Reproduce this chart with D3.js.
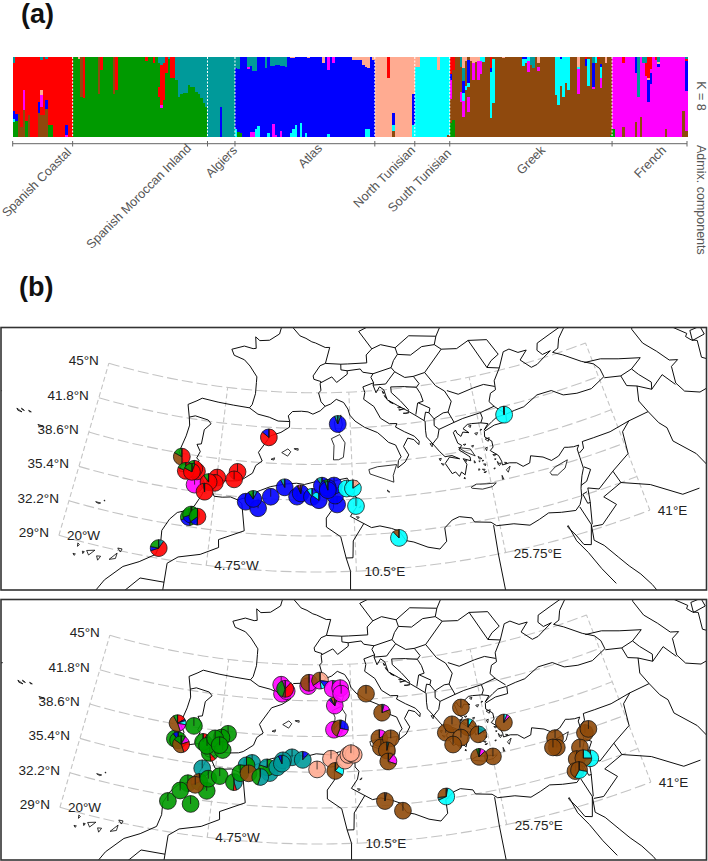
<!DOCTYPE html>
<html><head><meta charset="utf-8">
<script src="https://cdn.jsdelivr.net/npm/d3@7"></script>
<style>html,body{margin:0;padding:0;background:#fff}svg{display:block}text{font-family:"Liberation Sans",Arial,sans-serif}</style>
</head><body><svg id="c" width="708" height="861"></svg>
<script>
// ---------- data ----------
const componentColors={r:"#ff0000",g:"#009a00",t:"#009a9a",b:"#0000ff",p:"#ffab91",c:"#00ffff",n:"#8f4a0a",m:"#ff00ff"};
const populations=["Spanish Coastal","Spanish Moroccan Inland","Algiers","Atlas","North Tunisian","South Tunisian","Greek","French"];
// runs: "count|component share ..." read top to bottom
const runsCoastal=["1|t8 r60 b10 c4 g18","1|r72 b8 g20","1|r72 n28","1|r88 n12","1|r42 m25 n33","1|r80 g20","1|r73 n27","3|r100","1|r57 b14 n29","1|t4 r38 p6 m15 r10 n27","1|r73 n27","1|t3 r51 b12 n34","1|r85 g15","1|r86 g14","5|r100","1|r86 b12 m2","2|r100"];
const runsInland=["2|g100","1|p3 g97","1|n50 g50","1|r52 g48","5|g100","1|n46 g54","1|r16 g84","4|g100","1|n46 g54","1|r42 g58","11|g100","1|r5 g95","2|g100","1|r8 g92","1|g100","1|t8 g30 r12 g50","1|t10 r50 m4 g36","1|t8 r46 g46","1|r20 g80","1|t2 g98","2|r27 g73","1|t29 g71","1|t50 g50","1|t47 g53","2|t45 g55","1|t35 g65","2|t38 g62","1|t44 g56","1|t46 g54","1|t52 g48","1|t58 g42","1|t63 g37"];
const runsAlgiers=["5|t100","1|t63 b37","5|t100"];
const runsAtlas=["1|t14 b76 c10","1|t15 b79 g6","1|b96 g4","2|b100","1|t12 m3 b85","1|t11 b83 m6","1|t18 b76 m6","1|t18 b72 c10","1|b87 c13","2|b100","1|t14 b86","1|b96 c4","1|t11 b89","1|t11 b73 m16","1|t10 b88 m2","1|t10 b90","1|t11 b82 m7","1|t11 b89","1|t12 b88","1|b100","1|p1 b95 c4","1|p1 b89 c10","1|b86 c14","1|b100","1|b83 c17","1|b100","1|b96 c4","1|p1 b99","5|b100","1|p8 b92","1|b100","1|m16 b81 c3","1|b100","1|m8 b92","7|b100","3|p4 b96","1|p4 b96","1|p10 b90","1|p12 b78 c10","1|p14 b76 c10","1|b100","1|p4 b96"];
const runsNorthTun=["5|p100","1|r26 p74","1|p100","1|p71 b15 c7 n7","7|p100","1|p47 b38 c15"];
const runsSouthTun=["2|p12 c88","7|c100","1|p16 c84","3|c100","1|c98 n2"];
const runsGreek=["1|r22 b7 m24 n30 g17","1|r16 n63 g21","2|n100","1|t12 n32 m12 n44","1|p14 t16 b15 c10 m21 n24","1|p5 n32 c5 n58","1|n4 b29 c5 n12 m19 n31","1|p5 n95","1|p8 m21 n71","1|p6 n94","1|p5 m24 n71","1|c5 m17 n78","1|c6 n94","2|n100","1|r14 b5 c58 n23","1|n3 c55 n42","3|n100","1|p1 n99","4|n100","3|n100","1|b3 c8 n89","1|b2 c6 n92","1|c5 m14 n81","1|t10 n90","1|t14 n86","1|n100","1|p8 n4 m6 n82","6|n100","1|c48 n52","1|c60 n40","1|b2 c35 n63","1|c50 n50","1|c33 n67","1|c41 n59","3|n100","1|p12 c3 m31 n54","2|n100","1|r3 b8 n89","1|n3 c34 n63","1|n100","1|t8 b30 m2 n60","1|c8 n92","1|r2 n98","1|n9 b4 c13 m13 n61","1|n100","1|p8 n92","1|n100","1|n98 g2"];
const runsFrench=["1|m90 g10","3|m100","1|r8 m80 n12","4|m100","1|b20 m62 n18","1|t50 m50","1|m76 n24","1|t8 m92","1|t8 r16 m76","1|r27 p2 b27 m44","1|r15 m5 b14 m66","1|m100","1|r4 m96","1|t6 p3 b3 m88","2|m100","1|m91 n9","6|m100","1|m68 n32","1|t3 r2 b38 m50 n7"];
const populationRuns=[runsCoastal,runsInland,runsAlgiers,runsAtlas,runsNorthTun,runsSouthTun,runsGreek,runsFrench];

const parallels=[45,41.8,38.6,35.4,32.2,29];
const parallelLabels=["45°N","41.8°N","38.6°N","35.4°N","32.2°N","29°N"];
const meridians=[-20,-4.75,10.5,25.75,41];
const meridianLabels=["20°W","4.75°W","10.5°E","25.75°E","41°E"];

// lon,lat polylines
const coasts=[
[-17,21,-16,23.5,-14.5,26.2,-13,27.7,-11.5,28.4,-10,29.3,-9.7,30.4,-9.8,31.5,-9.2,32.6,-8.5,33.3,-7.6,33.6,-6.8,34.1,-6.2,35.1,-5.9,35.8,-5.3,35.9,-4.8,35.2,-3.9,35.2,-3,35.3,-2.2,35.1,-1.2,35.4,-0.6,35.8,0.2,36.1,1.3,36.5,3,36.8,4.2,36.9,5.1,36.8,6.3,37.05,7.8,36.95,8.9,37.2,9.9,37.33,10.3,36.8,11,37.05,10.6,36.4,10.6,35.8,11,35.4,10.8,34.7,10.1,33.9,11.1,33.4,12.3,32.8,13.2,32.9,14.4,32.6,15.2,32.3,15.8,31.4,16.6,31.2,18,30.6,19.2,30.3,20,30.9,20,32.1,20.9,32.7,21.7,32.9,23,32.6,23.2,32.2,24.9,31.9,25.4,31.5,27.2,31.35,28.8,30.9,29.9,31.2,31,31.55,32.3,31.3,33.8,31.1,34.4,31.5,34.8,32.1,35,32.85,35.2,33.3,35.5,33.9,35.9,34.5,35.9,35.5,35.9,36.3,36.2,36.6,35.6,36.6,35,36.7,34.6,36.8,33.7,36.2,32.8,36,32,36.5,30.7,36.9,30.4,36.3,29.6,36.15,29,36.6,28.2,36.75,27.4,36.7,27.4,37.05,27.2,37.6,26.4,38.2,26.8,38.45,26.8,39,26.1,39.5,26.2,40,27.5,40.35,29,40.4,29.1,41.05,30.2,41.2,31.4,41.3,33.3,42,35.1,42,36.3,41.3,37.9,41.05,39.7,41,41.6,41.6,41.5,42.4,41,43,39.7,43.6,37.8,44.7,36.7,45.2,37.5,45.4,38,46.2,39.3,47.1,38.5,47.1,37,46.8,35.2,46.4,34.9,45.8,35.4,45.3,36.5,45.4,35.4,45,34.4,44.6,33.6,44.5,32.5,45.4,33.6,46.1,32.5,46.1,31.5,46.6,30.7,46.5,29.7,45.2,28.7,44.2,28.6,43.4,27.9,43.2,27.5,42.5,28,41.95,29,41.2],
[29,41.05,28,41,27.3,40.7,26.7,40.4,26.2,40.1,26.8,40.6,26,40.8,24.9,40.9,24.4,40.9,23.8,40.6,24.4,40.15,23.7,40.3,23.4,39.95,23,40.3,22.9,40.6,22.6,40.4,22.9,39.4,23.3,39.15,22.9,38.8,23.6,38.3,24,38,24,37.65,23.2,37.95,23.5,37.4,23.1,36.5,22.75,36.8,22.45,36.45,22.1,36.9,21.7,36.8,21.1,37.8,21.7,38.3,22.8,38,22,38.4,21.2,38.4,20.7,38.9,20.2,39.5,19.4,40.4,19.4,41,19.5,41.8,18.5,42.4,17.6,42.9,16.4,43.5,15.2,44.1,14.9,45,14.4,45.3,13.9,44.8,13.6,45.5,13.7,45.7,12.3,45.4,12.5,44.9,12.3,44.3,13.5,43.6,14.2,42.5,15.2,41.95,16.1,41.9,15.9,41.6,16.9,41.1,18,40.6,18.5,40.1,18.4,39.8,17.9,40.3,17.2,40.5,16.6,39.8,17.1,39,16.6,38.4,15.7,37.95,15.85,38.6,16.2,38.9,15.7,40,14.9,40.3,14.3,40.8,13.7,41.25,12.2,41.8,11.1,42.4,10.5,42.95,10.3,43.5,9.8,44.1,8.9,44.4,8.2,44,7.5,43.8,6.9,43.4,6,43.1,5.4,43.3,4.6,43.35,3.5,43.3,3,42.9,3.2,42.4,3.2,41.9,2.2,41.4,1,41.05,0.7,40.7,-0.3,39.5,0.2,38.75,-0.5,38.3,-0.8,37.6,-1.9,36.95,-2.4,36.8,-3.5,36.7,-4.4,36.7,-5.4,36.1,-6,36.2,-6.3,36.6,-7,37.2,-7.9,37,-9,37,-8.8,38,-9.4,38.7,-8.9,40.2,-8.7,41.2,-8.9,41.9,-9.3,43,-8.3,43.45,-7.7,43.75,-5.7,43.6,-3.8,43.5,-1.8,43.4,-1.5,43.7,-1.2,44.7,-1.2,45.7,-1.2,46.2,-2.2,47.1,-3,47.6,-4.4,47.9,-4.8,48.4,-3.2,48.8,-2,48.65,-1.6,48.7,-1.8,49.7,-1.2,49.4,0.1,49.5,1.4,50.1,1.7,50.9,2.5,51.1,3.6,51.4],
[35.5,23.9,34.6,25.5,33.8,27.2,33,28.5,32.6,30,32.5,29.9,33.1,29,33.6,28,34.3,27.8,34.9,29.5,34.7,28.1,35.5,27.4,36.5,26,37.2,25,38,24,38.7,22.8,39.2,21.5],
[47.5,45.6,47,44.5,47.5,43,48.6,41.8,49.5,40.6,50.4,40.3,49.4,40,49,38.5,49.5,37.5,51,36.8,53.9,36.9,53.8,38.9,53,39.5,53.5,41,52.9,41.3,52.5,41.8,52.8,42,51.5,43.2,50.3,44.4,51.2,45,53,45.3,53,46.8,49,46.5,47.5,45.6],
[53,41.2,54.6,41.2,54.6,42,53.3,42.1,53,41.2]
];
const borders=[
[-8.9,41.9,-8.2,42.1,-6.6,41.9,-6.2,41.6,-6.9,41,-7,39.7,-7.5,39.6,-7,39,-7.3,38.4,-7,38.2,-7.4,37.2],
[-1.8,43.4,-0.7,42.9,0.7,42.7,1.8,42.4,3.2,42.4],
[2.5,51.1,3.2,50.7,4.2,50,5,49.8,5.8,49.5,6.3,49.4,7.6,49,8.2,49,7.6,47.6,6.9,47.4,6,46.5,6.1,46.2,7,46,6.9,45.8,7,45.2,6.7,45,7,44.2,7.5,43.8],
[7,45.9,8.4,46.4,9,45.9,10.4,46.6],[7.6,47.6,9.6,47.5,9.6,47,10.4,46.9,10.4,46.6],[10.4,46.9,12.1,47,12.4,46.7,13.7,46.5,13.4,46.2,13.7,45.7],
[9.6,47.5,10.5,47.5,13,47.5,13,48.2,13.8,48.7,12.2,50.3,14.8,51,14.6,52],[13.8,48.7,15,49,16.9,48.6,17.1,48,16.5,47.5,16.1,46.9,16.5,46.5],[13.7,46.5,16.1,46.9],
[13.6,45.5,15.2,45.5,15.7,45.9,16.5,46.5,17.7,45.9,18.8,45.9,19.4,45.2,19,44.9,17.5,45.1,15.8,45.2,15.8,44.7,16.8,43.9,17.7,43,17.6,42.9],
[19,44.9,19.4,44.3,19.6,43.6,18.9,43.5,18.5,42.5],[19,43.5,20.3,42.9,20.1,42.5,19.7,42.6,19.4,41.9],[20.1,42.5,20.6,41.9,20.5,41.3,21,40.9,20.7,40.2,20,39.7],[21,40.9,22.9,41.3,24,41.5,26.2,41.7,26.3,41.2,26,40.8],
[20.6,41.9,21.8,42.3,22.4,42.3,22.9,41.3],[26.2,41.7,28,42],[22.4,42.3,23,43.2,22.4,44.2,21.4,44.8,20.3,46.1,22.9,47.9],[22.7,44.2,24,43.7,26,44,27.3,44.1,28.6,43.7],[18.8,45.9,20.3,46.1],
[17.1,48,18.8,47.8,20.4,48.4,22.1,48.4,22.9,47.9],[16.9,48.6,18.9,49.5,22.5,49.1,24,50.6],[22.1,48.4,22.5,49.1],[22.9,47.9,24.9,47.7,26.6,48.2,28.2,45.5,29.7,45.2],[26.6,48.2,29,47.9,30,46.4,28.9,46,28.2,45.5],
[40,43.4,42,43.2,44,42.6,46.5,41.9,45,41.3,43.5,41.1,41.6,41.5],[45,41.3,45.5,40.6,46.5,39.5,46.2,38.9,44.8,39.7,43.7,40.1,43.5,41.1],[46.2,38.9,48,39.7,48.9,38.4],
[44.8,39.7,44.3,38.4,44.8,37.2,42.4,37.1,40,36.8,38,36.8,36.7,36.8,36.6,36.2,36,35.9],[42.4,37.1,41.3,36.4,41,34.4,38.8,33.4,36.8,32.3,35.7,32.7],[36,34.6,36.6,34.2,35.8,33.3,35.1,33.1],[35.7,32.7,35.5,31.5,35,29.5],[34.3,31.3,34.9,29.5],[35.5,32.4,35,32.3,35.2,31.4,35.5,31.4],
[38.8,33.4,39.2,32.2,37,31.5,38,30.5,36,29.2,35,29.3],[39.2,32.2,42,31.1,44.7,29.2,46.5,29.1],[44.8,37.2,45.4,35.9,46,35.2,46,33.9,47.7,32,48.5,30],
[25.1,31.6,25,29,25,22],[11.5,33.2,10.3,31.7,10.2,30.2,9.5,30.2,9.9,29,9.8,26.5],[8.6,36.9,8.3,35.8,8.3,34.7,7.5,33.8,7.5,33,9,32.1,9.5,30.2],
[-2.2,35.1,-1.7,34.8,-1.2,32.4,-3.8,31.4,-3.7,30.7,-5.5,29.9,-7.7,29.4,-8.7,28.7,-8.7,26],[-12.5,25.5,-11.1,27,-8.7,27],[31.2,22,25,22]
];
const islands=[
[23.5,35.3,24.1,35.5,25.2,35.35,26.3,35.25,25.8,35,24.7,34.95,23.6,35.2,23.5,35.3],[32.3,35,33,35.35,34.5,35.65,34,35,33.6,34.85,33,34.6,32.4,34.75,32.3,35],
[12.4,38,13.4,38.2,15.6,38.25,15.1,37.3,15.1,36.7,14.3,37,12.5,37.6,12.4,38],[8.2,40.9,9.2,41.25,9.8,40.5,9.55,39.2,9,39,8.4,39,8.5,40.3,8.2,40.9],[8.6,42.4,9.4,43,9.55,42.1,9.2,41.4,8.7,41.7,8.6,42.4],
[2.4,39.6,3.1,39.95,3.45,39.7,3.1,39.3,2.4,39.6],[3.85,40,4.3,40,4.3,39.85,3.85,39.95,3.85,40],[1.2,38.95,1.6,39.1,1.55,38.9,1.2,38.95],[14.3,36.05,14.55,35.85,14.35,35.9,14.3,36.05],
[10.75,33.85,11.05,33.8,10.9,33.65,10.75,33.85],[11.05,34.65,11.3,34.8,11.2,34.65,11.05,34.65],
[22.9,39,24.2,38.7,24.6,38,23.6,38.5,22.9,39],[26.1,39.3,26.6,39.35,26.4,39.05,26.1,39.3],[25.9,38.5,26.15,38.55,26,38.25,25.9,38.5],[26.6,37.8,27,37.75,26.7,37.65,26.6,37.8],[27.7,36.2,28.2,36.45,27.85,35.95,27.7,36.2],[20.5,38.3,20.75,38.3,20.6,38.1,20.5,38.3],[19.7,39.75,20,39.7,19.9,39.45,19.7,39.75],[20.65,37.85,20.95,37.75,20.85,37.65,20.65,37.85],[24.5,40.75,24.8,40.75,24.65,40.57,24.5,40.75],[25.05,40,25.4,40,25.2,39.8,25.05,40],[25.35,37.15,25.6,37.1,25.5,36.95,25.35,37.15],[24.9,37.9,25.3,37.65,25,37.65,24.9,37.9],[23.4,37.75,23.55,37.75,23.5,37.65,23.4,37.75],[24.4,37.6,24.5,37.4,24.35,37.4,24.4,37.6],[25.1,36.7,25.4,36.65,25.3,36.55,25.1,36.7],[26.9,36.9,27.3,36.9,27.05,36.7,26.9,36.9],[25.2,36.4,25.5,36.45,25.4,36.35,25.2,36.4],[27.1,35.8,27.2,35.45,27.05,35.45,27.1,35.8],[23,36.3,23.05,36.15,22.9,36.2,23,36.3],[23.5,39.2,23.8,39.2,23.65,39.1,23.5,39.2],[24.4,38.95,24.65,38.95,24.5,38.8,24.4,38.95],[25.8,40.25,25.95,40.2,25.75,40.15,25.8,40.25],[24.9,37.5,25.05,37.45,24.95,37.4,24.9,37.5],[25.3,37.5,25.45,37.45,25.3,37.4,25.3,37.5],[24.7,36.8,24.85,36.75,24.7,36.65,24.7,36.8],[26.4,36.6,26.55,36.55,26.4,36.5,26.4,36.6],[26.7,37.4,26.85,37.35,26.7,37.3,26.7,37.4],[27.7,36.9,27.95,36.8,27.75,36.75,27.7,36.9],[26.9,37.1,27,37.05,26.95,36.95,26.9,37.1],
[14.7,44.9,14.9,44.7,14.75,44.7,14.7,44.9],[14.9,44.5,15.2,44.2,15,44.3,14.9,44.5],[16.4,43.35,16.8,43.3,16.5,43.25,16.4,43.35],[16.5,43.1,17.2,43.15,16.6,43.05,16.5,43.1],[17,42.75,17.7,42.75,17.3,42.7,17,42.75],[15.4,44,15.9,43.7,15.5,43.85,15.4,44],
[-25.8,37.85,-25.15,37.85,-25.5,37.7,-25.8,37.85],[-28.7,38.55,-28,38.4,-28.5,38.4,-28.7,38.55],[-27.35,38.75,-27,38.7,-27.2,38.65,-27.35,38.75],[-31.2,39.5,-31.1,39.45,-31.2,39.4,-31.2,39.5],[-28.2,38.7,-27.8,38.6,-28.1,38.6,-28.2,38.7],
[-17.25,32.75,-16.7,32.75,-16.9,32.65,-17.25,32.75],[-16.4,33.08,-16.3,33.05,-16.4,33,-16.4,33.08],
[-17.95,28.8,-17.75,28.7,-17.9,28.5,-17.95,28.8],[-18.15,27.8,-17.9,27.8,-18,27.65,-18.15,27.8],[-17.3,28.2,-17.1,28.2,-17.2,28,-17.3,28.2],[-16.9,28.35,-16.1,28.55,-16.6,28,-16.9,28.35],[-15.8,28.1,-15.4,28.15,-15.6,27.75,-15.8,28.1],[-14.5,28.05,-13.85,28.75,-13.9,28.25,-14.5,28.05],[-13.9,29.2,-13.45,29.2,-13.55,28.9,-13.9,29.2]
];

// pies: lon, lat, "component percent ..." clockwise from twelve o'clock
const piesUpper=[
[0.8,40.9,"r86 b14"],[-9,38.3,"r50 n33 g17"],[-7.1,36,"m100"],[-7.05,37.2,"r100"],[-7.4,37.4,"r90 g10"],[-8.3,37.1,"r82 g18"],[-7.6,37.1,"g6 r77 g17"],
[-4.7,36.9,"r100"],[-4.9,36.4,"r100"],[-5.6,36.4,"r90 g10"],[-5.9,35.5,"r98 t2"],[-2.5,37.6,"r100"],[-2.8,36.9,"r100"],
[-7.2,33.05,"g48 b22 g30"],[-7,33.3,"n2 g50 b18 g30"],[-6.3,33.2,"r50 n1 b14 g35"],[-9.8,29.9,"t10 r60 b8 g22"],[9,42.2,"t6 b88 t6"],
[-1.3,35,"b100"],[0.1,34.5,"b100"],[-0.5,35.3,"t8 b82 g10"],[1.4,35.6,"b100"],[2.9,36.5,"b92 t8"],[4.3,35.7,"b100"],[4.7,36,"p3 b90 n3 m4"],[5.95,35.7,"b90 c10"],[8.7,35,"b100"],[6.7,35.4,"b85 c15"],[8.5,35.8,"b100"],[7.05,36.7,"b90 t10"],[8.4,36.7,"b100"],[7.7,36.5,"t4 b88 g8"],[7.7,36.3,"b95 t5"],
[9.8,36.4,"c100"],[10.75,34.8,"c100"],[10.5,36.4,"p15 c85"],[15.1,31.7,"c88 n12"],[28.9,41.05,"c99 n1"]
];
const piesLower=[
[-7.8,38.7,"g100"],[-9.7,37.3,"g100"],[-9.3,37.2,"g90 b10"],[-9.7,38.7,"r17 b3 c8 m17 n47 g8"],[-8.9,36.9,"g8 m12 r25 n40 g15"],
[-5.6,36.5,"g38 r10 g52"],[-6.5,37.4,"r8 g92"],[-6,37.1,"g100"],[-3.8,38.4,"g100"],[-4.5,38,"g100"],[-5.2,37.85,"g100"],[-4.2,36.9,"g100"],[-4.6,37.3,"g100"],
[-6.2,35.05,"t100"],[-9.3,31.7,"g100"],[-7.5,33.55,"g100"],[-8.2,32.8,"g100"],[-6.9,31.75,"g100"],[-6.3,33.8,"g70 n30"],[-5.4,33.1,"g100"],[-6.7,33.5,"n100"],[-5.4,34.2,"g100"],[-4.2,34.55,"g100"],[-2.6,34.15,"t45 r6 g49"],[-0.8,36,"t100"],[-1.4,35.75,"g75 t25"],[-2,35,"g100"],[-1.1,35.05,"n100"],[1.2,35.2,"t100"],[0.9,35.7,"g80 t20"],[0.2,34.8,"t55 g45"],[2,35.75,"t100"],[3.6,36.7,"t100"],[2.6,36.4,"t100"],[2.5,36.1,"t93 b7"],[4.8,36.5,"b12 t88"],
[6.4,35.65,"p100"],[7.95,36.6,"p100"],[8.4,35.5,"n11 c22 n67"],[9.5,36.4,"p100"],[9.9,36.9,"p100"],[10.5,36.9,"p100"],[10.2,37.05,"p100"],
[2.15,42.35,"m100"],[2,43.15,"m100"],[2.7,42.6,"m100"],[2.5,42.8,"m12 r38 n5 g40 m5"],[5.3,43.1,"m100"],[5.4,43.4,"m50 n50"],[6.75,43.6,"p27 b13 c8 m17 n35"],[8.3,42.85,"t5 m95"],[8.5,41.35,"n6 m82 b4 n8"],[9.2,42.9,"m100"],[9.3,42.4,"m100"],[8.35,39.2,"r10 m90"],[9.05,39.3,"g3 b25 m28 n44"],
[12.3,42.3,"n100"],[14.05,40.5,"t4 m15 n81"],[13.5,38.25,"m18 n82"],[13.6,37.4,"n100"],[14.8,38.15,"n100"],[14.25,37.1,"t4 n96"],[14.3,36.1,"n10 m20 n70"],
[13.6,32.6,"p3 n97"],[15.4,31.6,"n100"],[20.1,32.4,"b3 c65 t5 n27"],
[23.3,40.05,"n100"],[21.1,38.05,"n100"],[21.95,38.7,"n100"],[23.7,38.2,"c9 n91"],[24.7,37.4,"t16 n84"],[22.7,37.4,"n100"],[21.7,36.9,"n100"],[27.8,37.95,"c6 m6 n88"],[25.8,35.2,"n100"],[24.3,35.4,"t3 m10 n82 g5"],
[32.9,35.45,"n100"],[32.8,34.6,"n100"],[32.4,34.7,"n100"],[36.2,35.1,"n100"],[36.7,35.35,"n100"],[35.2,34,"n100"],[35.9,32.8,"c70 n30"],[34.5,33.1,"n100"],[35.2,33,"c25 n75"],[34,32.1,"n100"],[34.4,32.1,"n28 c30 n42"]
];

// ---------- drawing ----------
const svg=d3.select("#c");
const parseShares=s=>s.split(" ").map(t=>[t[0],+t.slice(1)||0]);
svg.append("defs").append("filter").attr("id","soft").attr("x","-2%").attr("y","-2%").attr("width","104%").attr("height","104%").append("feGaussianBlur").attr("stdDeviation",.45);
// ---- panel a
const individuals=[];const groupSizes=[];
populationRuns.forEach((runs,pi)=>{let n=0;runs.forEach(r=>{const [c,seq]=r.split("|");const shares=parseShares(seq);for(let i=0;i<+c;i++){individuals.push({pop:pi,shares});n++;}});groupSizes.push(n);});
const xBar=d3.scaleBand().domain(d3.range(individuals.length)).range([12.7,687]).paddingInner(0).paddingOuter(0);
const yBar=d3.scaleLinear().domain([0,1]).range([57,136.5]);
const bw=xBar.bandwidth();
const barG=svg.append("g").attr("filter","url(#soft)").attr("shape-rendering","crispEdges");
individuals.forEach((d,i)=>{const tot=d3.sum(d.shares,s=>s[1]);let acc=0;d.shares.forEach(s=>{barG.append("rect").attr("x",xBar(i)).attr("width",bw+.6).attr("y",yBar(acc/tot)).attr("height",yBar((acc+s[1])/tot)-yBar(acc/tot)+.5).attr("fill",componentColors[s[0]]);acc+=s[1];});});
const cumul=d3.cumsum(groupSizes);
const edges=[0,...cumul];
const edgeX=e=>e>=individuals.length?687:xBar(e);
const inner=edges.slice(1,-1);
svg.append("g").selectAll("line").data(inner).join("line").attr("x1",edgeX).attr("x2",edgeX).attr("y1",57).attr("y2",136.5).attr("stroke","#fff").attr("stroke-width",1).attr("stroke-dasharray","2 1.5");
const axisG=svg.append("g").attr("stroke","#666");
axisG.append("line").attr("x1",12.7).attr("x2",687).attr("y1",143.7).attr("y2",143.7).attr("stroke-width",1);
axisG.selectAll("line.t").data(edges).join("line").attr("x1",edgeX).attr("x2",edgeX).attr("y1",141).attr("y2",146.5).attr("stroke-width",1);
const labelEnds=[[72,153],[192,149],[238,151],[323,149],[416,151],[452,154],[546,151],[667,151]];
svg.append("g").selectAll("text").data(populations).join("text").text(d=>d)
 .attr("transform",(d,i)=>`translate(${labelEnds[i][0]},${labelEnds[i][1]}) rotate(-45)`)
 .attr("text-anchor","end").attr("font-size",12.6).attr("fill","#555");
svg.append("text").text("K = 8").attr("transform","translate(697,96) rotate(90)").attr("text-anchor","middle").attr("font-size",12.5).attr("fill","#555");
svg.append("text").text("Admix. components").attr("transform","translate(697,145) rotate(90)").attr("font-size",12.5).attr("fill","#555");
svg.append("text").text("(a)").attr("x",21).attr("y",22.5).attr("font-size",27).attr("font-weight","bold").attr("fill","#111");
svg.append("text").text("(b)").attr("x",19).attr("y",296).attr("font-size",27).attr("font-weight","bold").attr("fill","#111");

// ---- panel b maps
const pairs=a=>d3.range(0,a.length,2).map(i=>[a[i],a[i+1]]);
const arc=d3.arc().innerRadius(0).outerRadius(8.4);
const pie=d3.pie().sort(null).value(d=>d[1]);
function drawMap(id,frame,anchor,pies){
  svg.append("clipPath").attr("id",id).append("rect").attr("x",frame[0]).attr("y",frame[1]).attr("width",frame[2]).attr("height",frame[3]);
  const proj=d3.geoConicConformal().parallels([30,45]).rotate([-6.5,0]).scale(645).translate([0,0]).precision(.3);
  const a=proj([6.5,29]);proj.translate([anchor[0]-a[0],anchor[1]-a[1]]);
  const path=d3.geoPath(proj);
  const g=svg.append("g").attr("clip-path",`url(#${id})`);
  const grid=g.append("g").attr("fill","none").attr("stroke","#c4c4c4").attr("stroke-width",1.1);
  parallels.forEach(lat=>grid.append("path").attr("stroke-dasharray","11 4").attr("d",path({type:"LineString",coordinates:d3.range(-20,41.01,1).map(l=>[l,lat])})));
  meridians.forEach(lon=>grid.append("path").attr("stroke-dasharray","5 3").attr("d",path({type:"LineString",coordinates:d3.range(29,45.01,1).map(l=>[lon,l])})));
  const land=g.append("g").attr("fill","none").attr("stroke","#000").attr("stroke-linejoin","round");
  coasts.concat(borders).forEach(c=>land.append("path").attr("stroke-width",.95).attr("d",path({type:"LineString",coordinates:pairs(c)})));
  islands.forEach(c=>land.append("path").attr("stroke-width",.8).attr("d",path({type:"LineString",coordinates:pairs(c)})));
  parallels.forEach((lat,i)=>{const p=proj([-20,lat]);g.append("text").text(parallelLabels[i]).attr("x",p[0]-10).attr("y",p[1]+2).attr("text-anchor","end").attr("font-size",13.5).attr("fill","#222");});
  meridians.forEach((lon,i)=>{const p=proj([lon,29]);g.append("text").text(meridianLabels[i]).attr("x",p[0]+8).attr("y",p[1]+5).attr("font-size",13.5).attr("fill","#222");});
  pies.forEach(d=>{const p=proj([d[0],d[1]]);const pg=g.append("g").attr("transform",`translate(${p[0]},${p[1]})`);
    pie(parseShares(d[2])).forEach(s=>pg.append("path").attr("d",arc(s)).attr("fill",componentColors[s.data[0]]).attr("fill-opacity",.9).attr("stroke","#111").attr("stroke-width",.75));
    pg.append("line").attr("y2",-8.4).attr("stroke","#111").attr("stroke-width",.75);
  });
  svg.append("rect").attr("x",frame[0]).attr("y",frame[1]).attr("width",frame[2]).attr("height",frame[3]).attr("fill","none").attr("stroke","#333").attr("stroke-width",1.6);
}
drawMap("mapUpper",[1,327.5,705.5,262.5],[317,572],piesUpper);
drawMap("mapLower",[1,599.5,705.5,260.5],[318,844],piesLower);
</script></body></html>
